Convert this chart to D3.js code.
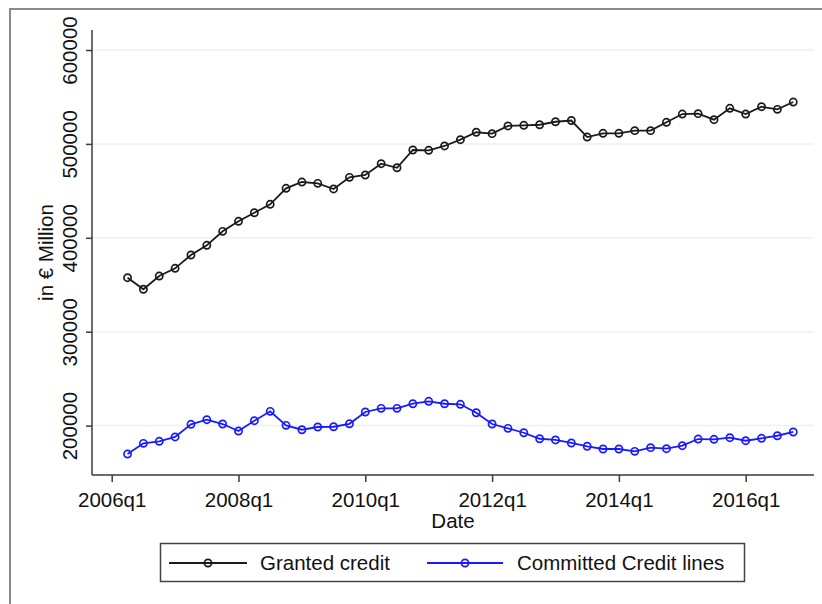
<!DOCTYPE html>
<html>
<head>
<meta charset="utf-8">
<script src="https://cdn.jsdelivr.net/npm/d3@7"></script>
<style>
  html, body { margin: 0; padding: 0; background: #fff; }
  svg { display: block; font-family: "Liberation Sans", Arial, sans-serif; }
</style>
</head>
<body>
<svg id="chart" width="822" height="604"></svg>
<script>
// quarters shown in the chart
var quarters = ["2006q2","2006q3","2006q4",
  "2007q1","2007q2","2007q3","2007q4",
  "2008q1","2008q2","2008q3","2008q4",
  "2009q1","2009q2","2009q3","2009q4",
  "2010q1","2010q2","2010q3","2010q4",
  "2011q1","2011q2","2011q3","2011q4",
  "2012q1","2012q2","2012q3","2012q4",
  "2013q1","2013q2","2013q3","2013q4",
  "2014q1","2014q2","2014q3","2014q4",
  "2015q1","2015q2","2015q3","2015q4",
  "2016q1","2016q2","2016q3","2016q4"];

var grantedCredit = [357500,345200,359300,
  367500,381700,392000,406900,
  417600,426700,435700,452700,
  459400,458000,452000,464400,
  466900,478900,474600,493500,
  493200,497800,504500,512400,
  510900,519100,519800,520400,
  523600,524900,507300,511300,
  511300,514100,514100,523000,
  531800,532200,525800,537900,
  531800,539600,536800,544600];

var committedLines = [169700,181100,183300,
  187900,201400,206300,201700,
  194200,205200,215200,200300,
  195600,198500,198800,201900,
  214500,218400,218400,223300,
  225900,223300,222700,213700,
  201700,197100,192400,186000,
  184700,181500,178000,175100,
  175100,172600,176500,175400,
  178600,185700,185400,187100,
  183900,186500,189200,193200];

var yTicks = [200000, 300000, 400000, 500000, 600000];
var xTickLabels = ["2006q1","2008q1","2010q1","2012q1","2014q1","2016q1"];

var seriesNames = ["Granted credit", "Committed Credit lines"];
var seriesColors = ["#1a1a1a", "#1a1aff"];

// quarter index, 2006q1 = 0
function qIndex(q) {
  return (+q.slice(0, 4) - 2006) * 4 + (+q.slice(5) - 1);
}

var svg = d3.select("svg");

var plot = {left: 92, right: 814, top: 30, bottom: 475};

var x = d3.scaleLinear().domain([-1.243, 44.31]).range([plot.left, plot.right]);
var y = d3.scaleLinear().domain([147400, 621300]).range([plot.bottom, plot.top]);

// outer frame
svg.append("rect")
  .attr("x", 10).attr("y", 9)
  .attr("width", 830).attr("height", 620)
  .attr("fill", "none")
  .attr("stroke", "#8a8a8a")
  .attr("stroke-width", 2);

// grid lines
svg.append("g")
  .selectAll("line")
  .data(yTicks)
  .enter().append("line")
    .attr("x1", plot.left).attr("x2", plot.right)
    .attr("y1", function(d) { return y(d); })
    .attr("y2", function(d) { return y(d); })
    .attr("stroke", "#eaf2f3")
    .attr("stroke-width", 1.5);

// y axis
var yAxis = svg.append("g")
  .attr("transform", "translate(" + plot.left + ",0)")
  .call(d3.axisLeft(y).tickValues(yTicks).tickSize(6).tickPadding(0).tickFormat(d3.format("d")));
yAxis.select(".domain").attr("stroke", "#3a3a3a").attr("stroke-width", 1.5)
  .attr("d", "M0," + plot.top + "V" + plot.bottom);
yAxis.selectAll(".tick line").attr("stroke", "#3a3a3a").attr("stroke-width", 1.5);
yAxis.selectAll(".tick text")
  .attr("x", 0).attr("y", 0).attr("dy", 0)
  .attr("transform", "translate(-15.5,0) rotate(-90)")
  .attr("text-anchor", "middle")
  .style("font-size", "20.5px")
  .style("fill", "#111");

// x axis
var xAxis = svg.append("g")
  .attr("transform", "translate(0," + plot.bottom + ")")
  .call(d3.axisBottom(x)
    .tickValues(xTickLabels.map(qIndex))
    .tickSize(7)
    .tickFormat(function(d, i) { return xTickLabels[i]; }));
xAxis.select(".domain").attr("stroke", "#3a3a3a").attr("stroke-width", 1.5)
  .attr("d", "M" + plot.left + ",0H" + plot.right);
xAxis.selectAll(".tick line").attr("stroke", "#3a3a3a").attr("stroke-width", 1.5);
xAxis.selectAll(".tick text")
  .attr("y", 32).attr("dy", 0)
  .style("font-size", "20.5px")
  .style("fill", "#111");

// axis titles
svg.append("text")
  .attr("transform", "translate(52.5," + ((plot.top + plot.bottom) / 2) + ") rotate(-90)")
  .attr("text-anchor", "middle")
  .style("font-size", "20.5px")
  .style("fill", "#111")
  .text("in € Million");

svg.append("text")
  .attr("x", (plot.left + plot.right) / 2)
  .attr("y", 528)
  .attr("text-anchor", "middle")
  .style("font-size", "20.5px")
  .style("fill", "#111")
  .text("Date");

// series
var seriesData = [grantedCredit, committedLines];
var line = d3.line()
  .x(function(d, i) { return x(qIndex(quarters[i])); })
  .y(function(d) { return y(d); });

seriesData.forEach(function(values, s) {
  var g = svg.append("g");
  g.append("path")
    .datum(values)
    .attr("d", line)
    .attr("fill", "none")
    .attr("stroke", seriesColors[s])
    .attr("stroke-width", 1.8);
  g.selectAll("circle")
    .data(values)
    .enter().append("circle")
      .attr("cx", function(d, i) { return x(qIndex(quarters[i])); })
      .attr("cy", function(d) { return y(d); })
      .attr("r", 3.6)
      .attr("fill", "none")
      .attr("stroke", seriesColors[s])
      .attr("stroke-width", 1.7);
});

// legend
var legend = svg.append("g");
legend.append("rect")
  .attr("x", 160.5).attr("y", 543.5)
  .attr("width", 584).attr("height", 38)
  .attr("fill", "#fff")
  .attr("stroke", "#444")
  .attr("stroke-width", 1.5);

var legendItems = [
  {x1: 169, x2: 247, tx: 260},
  {x1: 427, x2: 503, tx: 517}
];
legendItems.forEach(function(it, s) {
  legend.append("line")
    .attr("x1", it.x1).attr("x2", it.x2)
    .attr("y1", 563).attr("y2", 563)
    .attr("stroke", seriesColors[s])
    .attr("stroke-width", 1.8);
  legend.append("circle")
    .attr("cx", (it.x1 + it.x2) / 2).attr("cy", 563)
    .attr("r", 3.6)
    .attr("fill", "none")
    .attr("stroke", seriesColors[s])
    .attr("stroke-width", 1.7);
  legend.append("text")
    .attr("x", it.tx).attr("y", 570)
    .style("font-size", "20.5px")
    .style("fill", "#111")
    .text(seriesNames[s]);
});
</script>
</body>
</html>
